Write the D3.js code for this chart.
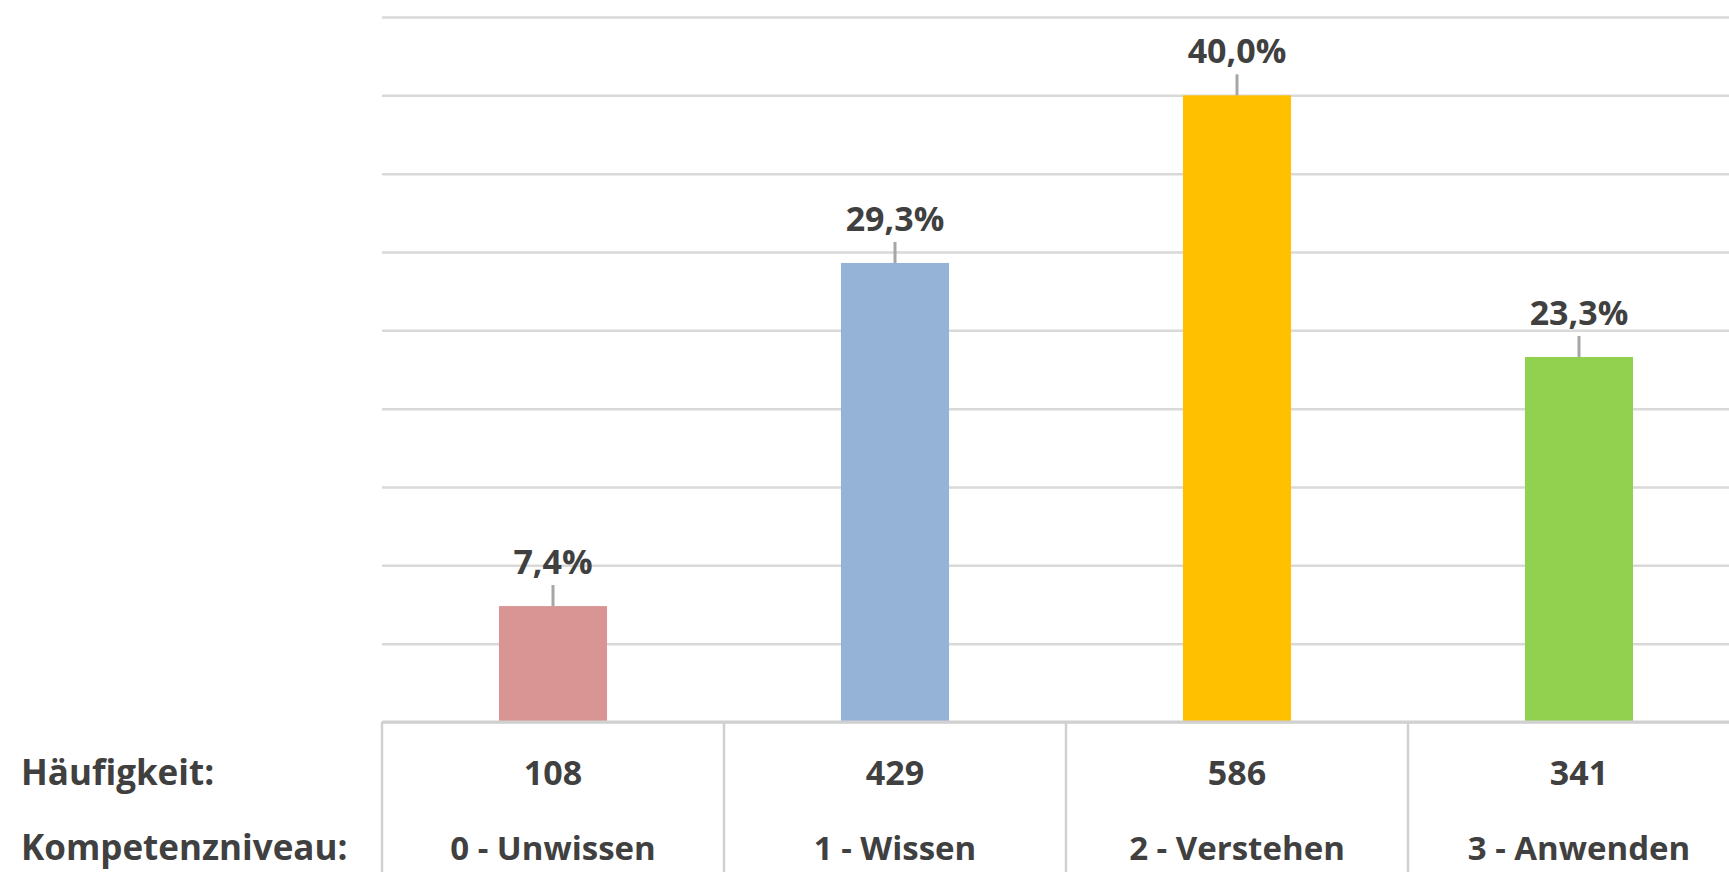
<!DOCTYPE html>
<head>
<meta charset="utf-8">
<title>Kompetenzniveau</title>
<script src="https://d3js.org/d3.v7.min.js"></script>
<style>
  body { margin: 0; background: #fff; }
  text { font-family: "Open Sans", sans-serif; font-weight: 700; fill: #404040; }
</style>
</head>
<body>
<div id="chart"></div>
<script>
// data
const categories = ["0 - Unwissen", "1 - Wissen", "2 - Verstehen", "3 - Anwenden"];
const shares = [7.4, 29.3, 40.0, 23.3];          // percent
const counts = [108, 429, 586, 341];             // Häufigkeit
const barColors = ["#d99594", "#95b3d7", "#ffc000", "#92d050"];
const yTicks = [0, 5, 10, 15, 20, 25, 30, 35, 40, 45];
const rowLabels = ["Häufigkeit:", "Kompetenzniveau:"];

const W = 1729, H = 872;
const plotLeft = 382, plotBase = 722, plotTop = 17;
const step = 342;

const svg = d3.select("#chart").append("svg")
    .attr("width", W).attr("height", H);

const y = d3.scaleLinear().domain([0, 45]).range([plotBase, plotTop]);
const x = d3.scaleBand().domain(categories)
    .range([plotLeft, plotLeft + step * categories.length]).padding(0);

// gridlines
svg.append("g")
  .attr("transform", "translate(" + plotLeft + ",0)")
  .call(d3.axisLeft(y).tickValues(yTicks).tickSize(-(W - plotLeft)).tickFormat(""))
  .call(g => g.select(".domain").remove())
  .selectAll("line")
    .attr("stroke", "#d9d9d9")
    .attr("stroke-width", 2.5);

const fmt = v => v.toFixed(1).replace(".", ",") + "%";
const barW = x.bandwidth() * 0.316;

const rows = categories.map((c, i) => ({cat: c, share: shares[i], count: counts[i], color: barColors[i]}));

// bars
svg.append("g").selectAll("rect")
  .data(rows)
  .enter().append("rect")
    .attr("x", d => x(d.cat) + (x.bandwidth() - barW) / 2)
    .attr("y", d => y(d.share))
    .attr("width", barW)
    .attr("height", d => y(0) - y(d.share))
    .attr("fill", d => d.color);

// leader lines + labels
const lab = svg.append("g").selectAll("g")
  .data(rows)
  .enter().append("g")
    .attr("transform", d => "translate(" + (x(d.cat) + x.bandwidth() / 2) + "," + y(d.share) + ")");
lab.append("line")
    .attr("y1", -21).attr("y2", 0)
    .attr("stroke", "#a6a6a6").attr("stroke-width", 3);
lab.append("text")
    .attr("y", -32)
    .attr("text-anchor", "middle")
    .attr("font-size", 34)
    .text(d => fmt(d.share));

// data table under the axis
const table = svg.append("g");
table.append("line")
    .attr("x1", plotLeft).attr("x2", W)
    .attr("y1", plotBase).attr("y2", plotBase)
    .attr("stroke", "#d0d0d0").attr("stroke-width", 3);
table.selectAll(".vline")
  .data(categories)
  .enter().append("line")
    .attr("class", "vline")
    .attr("x1", d => x(d)).attr("x2", d => x(d))
    .attr("y1", plotBase).attr("y2", H)
    .attr("stroke", "#d0d0d0").attr("stroke-width", 2.5);

table.selectAll(".cnt")
  .data(rows)
  .enter().append("text")
    .attr("class", "cnt")
    .attr("x", d => x(d.cat) + x.bandwidth() / 2)
    .attr("y", 785)
    .attr("text-anchor", "middle")
    .attr("font-size", 34)
    .text(d => d.count);

table.selectAll(".cat")
  .data(rows)
  .enter().append("text")
    .attr("class", "cat")
    .attr("x", d => x(d.cat) + x.bandwidth() / 2)
    .attr("y", 860)
    .attr("text-anchor", "middle")
    .attr("font-size", 33)
    .text(d => d.cat);

svg.selectAll(".rowlab")
  .data(rowLabels)
  .enter().append("text")
    .attr("class", "rowlab")
    .attr("x", 21)
    .attr("y", (d, i) => i === 0 ? 785 : 860)
    .attr("font-size", 35)
    .text(d => d);
</script>
</body>
